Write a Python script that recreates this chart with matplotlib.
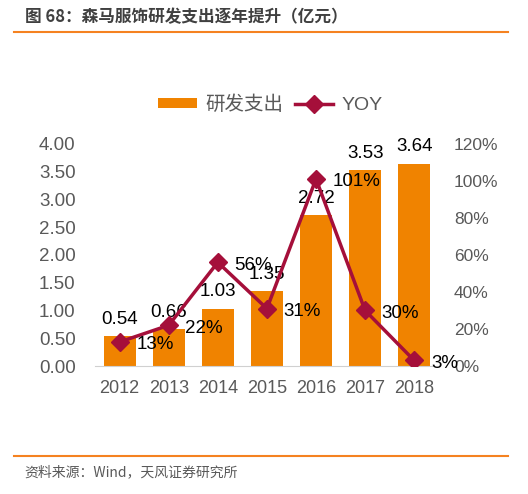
import matplotlib.pyplot as plt
import numpy as np

plt.rcParams['font.family'] = ['Liberation Sans', 'Noto Sans CJK SC', 'DejaVu Sans']

years = ['2012', '2013', '2014', '2015', '2016', '2017', '2018']
spend = [0.54, 0.66, 1.03, 1.35, 2.72, 3.53, 3.64]
yoy = [13, 22, 56, 31, 101, 30, 3]
left_ticks = [0, 0.5, 1.0, 1.5, 2.0, 2.5, 3.0, 3.5, 4.0]
right_ticks = [0, 20, 40, 60, 80, 100, 120]

bar_color = '#F08300'
line_color = '#A50F3A'
gray = '#595959'
orange_rule = '#F58220'

fig = plt.figure(figsize=(5.28, 4.94), dpi=100)
ax = fig.add_axes([0.180, 0.259, 0.651, 0.450])
x = np.arange(len(years))

bars = ax.bar(x, spend, width=0.65, color=bar_color, label='研发支出', zorder=2)
ax.set_xlim(-0.5, len(years) - 0.5)
ax.set_ylim(0, 4.0)
ax.set_yticks(left_ticks)
ax.set_yticklabels(['%.2f' % v for v in left_ticks])
ax.set_xticks(x)
ax.set_xticklabels(years)
ax.tick_params(axis='y', length=0, labelsize=13.5, colors=gray, pad=14)
ax.tick_params(axis='x', length=0, labelsize=13, colors=gray, pad=10)
for s in ['top', 'left', 'right']:
    ax.spines[s].set_visible(False)
ax.spines['bottom'].set_color('#D0D0D0')

for xi, v in zip(x, spend):
    ax.annotate('%.2f' % v, (xi, v), xytext=(0, 6), textcoords='offset points',
                ha='center', va='bottom', fontsize=13.5, color='black', zorder=5,
                annotation_clip=False)

ax2 = ax.twinx()
ax2.plot(x, yoy, color=line_color, lw=2.5, marker='D', ms=9, label='YOY', zorder=3)
ax2.set_ylim(0, 120)
ax2.set_yticks(right_ticks)
ax2.set_yticklabels(['%d%%' % v for v in right_ticks])
ax2.tick_params(length=0, labelsize=12.5, colors=gray, pad=11)
for s in ['top', 'left', 'right', 'bottom']:
    ax2.spines[s].set_visible(False)

for xi, v in zip(x, yoy):
    ax2.annotate('%d%%' % v, (xi, v), xytext=(12, -2), textcoords='offset points',
                 ha='left', va='center', fontsize=13.5, color='black', zorder=6,
                 annotation_clip=False)

h1, l1 = ax.get_legend_handles_labels()
h2, l2 = ax2.get_legend_handles_labels()
fig.legend(h1 + h2, l1 + l2, loc='center', bbox_to_anchor=(0.512, 0.788), ncol=2,
           frameon=False, fontsize=14, labelcolor=gray, handlelength=2.0,
           handleheight=0.45, columnspacing=0.6, handletextpad=0.4)

# header and footer
fig.text(0.047, 0.965, '图 68：森马服饰研发支出逐年提升（亿元）', fontsize=12,
         fontweight='bold', color='#404040', va='center', ha='left',
         family=['Noto Sans CJK SC', 'DejaVu Sans'])
fig.add_artist(plt.Line2D([0.027, 0.962], [0.935, 0.935], color=orange_rule, lw=1.5))
fig.add_artist(plt.Line2D([0.027, 0.962], [0.077, 0.077], color=orange_rule, lw=1.5))
fig.text(0.047, 0.045, '资料来源：Wind，天风证券研究所', fontsize=10, color=gray,
         va='center', ha='left', family=['Noto Sans CJK SC', 'DejaVu Sans'])

fig.savefig('out.png', dpi=100)
